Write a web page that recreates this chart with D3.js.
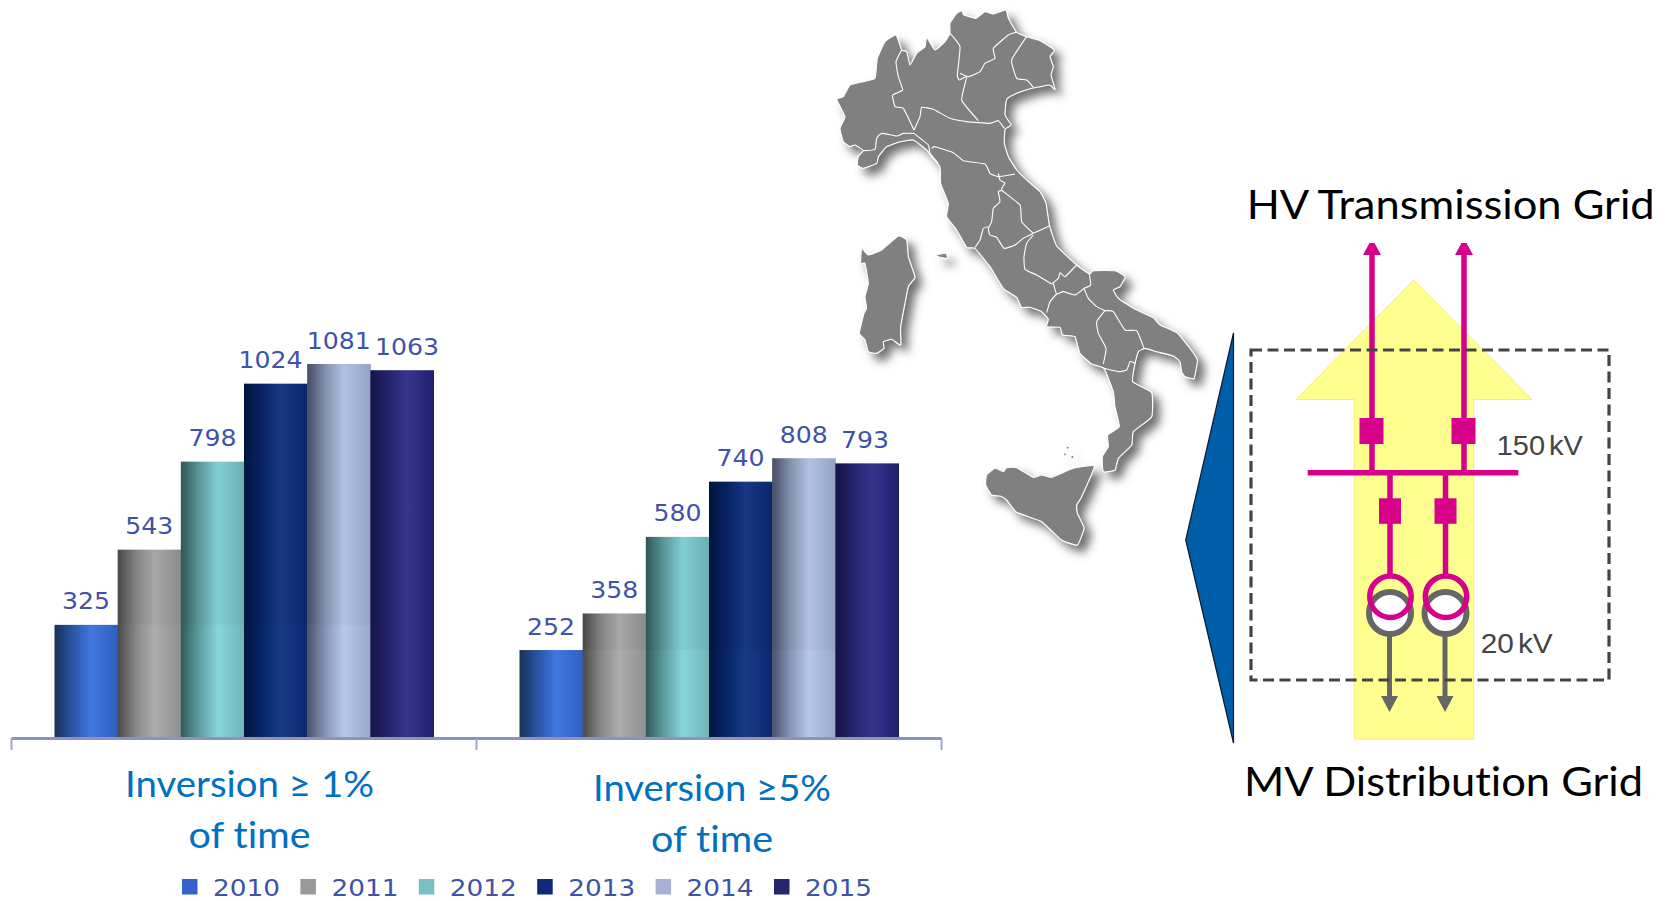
<!DOCTYPE html>
<html>
<head>
<meta charset="utf-8">
<script src="https://cdn.jsdelivr.net/npm/d3@7"></script>
<style>
  html, body { margin: 0; padding: 0; background: #fff; }
  svg { display: block; }
  text { font-variant-ligatures: none; }
</style>
</head>
<body>
<svg id="chart" width="1672" height="901"></svg>
<script>
// Occurrences of reverse power flow per year, for two time thresholds
const years = ["2010", "2011", "2012", "2013", "2014", "2015"];
const groups = ["Inversion ≥ 1%", "Inversion ≥5%"];
const inversion1 = [325, 543, 798, 1024, 1081, 1063];
const inversion5 = [252, 358, 580, 740, 808, 793];
const legendColors = ["#3264cc", "#999999", "#78c0c4", "#0c2a78", "#a6b2d4", "#26266f"];
const barStops = [
  ["#1a3055", "#2a56a8", "#4377e0", "#2f5fc0"],
  ["#4a4a4a", "#8a8a8a", "#adadad", "#8f8f8f"],
  ["#2f5a5c", "#5f9fa2", "#87d5dc", "#6fb5b8"],
  ["#021540", "#08266a", "#1a3a88", "#0a2870"],
  ["#4a5068", "#8a98b8", "#b8c8ea", "#98a8c8"],
  ["#141448", "#24246e", "#35358f", "#20206e"]
];

// Italy traced in map units; mapX and mapY place it on the page
const mainland = [[410,40],[425,32],[432,45],[468,55],[495,35],[520,42],[558,30],[565,55],[590,97],[620,110],[660,122],[703,150],[690,170],[700,200],[693,225],[705,268],[690,255],[660,260],[635,265],[590,280],[560,298],[555,345],[573,375],[555,388],[553,430],[565,470],[590,510],[625,545],[660,575],[678,610],[688,675],[710,738],[770,795],[808,822],[820,812],[885,812],[915,830],[900,860],[880,870],[895,895],[940,925],[1000,953],[1020,975],[1070,998],[1110,1045],[1132,1080],[1122,1135],[1095,1130],[1085,1115],[1080,1085],[1060,1068],[1010,1055],[975,1045],[955,1055],[945,1090],[938,1145],[995,1178],[995,1250],[940,1295],[935,1335],[895,1375],[885,1410],[850,1415],[847,1370],[865,1340],[863,1305],[898,1280],[885,1220],[880,1175],[852,1105],[815,1092],[780,1060],[765,1010],[728,1005],[720,982],[680,980],[685,958],[665,935],[630,922],[605,922],[590,892],[550,865],[510,800],[465,745],[440,742],[410,690],[380,650],[385,610],[362,550],[360,500],[335,470],[320,450],[280,420],[240,425],[200,440],[175,470],[170,490],[130,505],[112,495],[115,470],[130,452],[105,435],[90,440],[70,425],[60,385],[75,350],[50,298],[70,290],[90,255],[130,245],[165,235],[172,175],[195,125],[228,105],[245,150],[260,155],[270,195],[290,160],[315,140],[320,112],[345,150],[375,125],[390,100],[390,70]];
const sardinia = [[125,745],[145,765],[185,750],[235,708],[260,720],[265,770],[285,832],[265,860],[242,980],[242,1035],[215,1018],[190,1025],[192,1045],[170,1060],[145,1055],[135,1020],[118,1000],[132,940],[140,925],[135,890],[145,850],[135,790],[122,790]];
const sicily = [[500,1425],[525,1405],[550,1415],[560,1403],[590,1403],[640,1432],[665,1425],[695,1432],[760,1405],[823,1398],[785,1490],[770,1515],[772,1540],[792,1585],[772,1635],[725,1620],[665,1565],[590,1537],[560,1500],[540,1488],[515,1485],[497,1455]];
const elba = [[347,765],[378,760],[382,775],[360,772]];
const aeolian = [[743,1343],[735,1363],[757,1371]];
const regionBorders = [
  [[245,150],[228,185],[235,230],[248,270],[218,285],[225,320],[250,325],[282,390]],
  [[282,390],[300,350],[305,322],[340,328],[390,355],[440,365],[510,370],[535,362],[553,385]],
  [[390,100],[420,140],[412,225],[418,240],[440,230],[425,300],[475,362]],
  [[420,220],[445,230],[480,215],[495,190],[525,175],[520,145],[565,105],[590,97]],
  [[620,110],[575,180],[590,235],[620,240],[640,262]],
  [[282,400],[250,400],[230,408],[185,400],[170,415],[165,448],[130,452]],
  [[282,400],[325,435],[330,460],[355,490]],
  [[335,445],[345,440],[400,458],[430,482],[495,492],[510,520],[535,530],[585,522]],
  [[535,520],[540,540],[555,550],[545,570],[600,615],[605,665],[640,700]],
  [[545,572],[535,575],[540,605],[520,625],[515,665],[505,685],[510,705],[530,712],[552,745],[585,735],[610,715],[640,700]],
  [[505,680],[490,685],[480,720],[465,742]],
  [[640,700],[688,678]],
  [[640,705],[620,730],[612,770],[615,808],[650,825],[695,852]],
  [[770,795],[735,830],[720,818],[715,835],[695,852]],
  [[808,822],[812,855],[792,865]],
  [[700,850],[710,882],[730,875],[765,885],[792,865]],
  [[710,882],[690,905],[680,938]],
  [[792,865],[805,895],[830,920],[855,932]],
  [[855,932],[830,965],[835,1000],[858,1045],[850,1092]],
  [[855,932],[880,935],[915,990],[950,992],[972,1045]],
  [[852,1105],[895,1115],[920,1110],[930,1085],[945,1090]]
];

const svg = d3.select("#chart");
const defs = svg.append("defs");

barStops.forEach((stops, i) => {
  const g = defs.append("linearGradient").attr("id", "bar" + i);
  [0, 0.3, 0.58, 1].forEach((o, k) =>
    g.append("stop").attr("offset", o).attr("stop-color", stops[k]));
});
const shadow = defs.append("filter").attr("id", "mapShadow")
  .attr("x", "-10%").attr("y", "-10%").attr("width", "125%").attr("height", "125%");
shadow.append("feDropShadow").attr("dx", 7).attr("dy", 7)
  .attr("stdDeviation", 5).attr("flood-color", "#505050").attr("flood-opacity", 0.8);

/* ---------- grouped bars ---------- */
const x0 = d3.scaleBand().domain(groups).range([11, 941]);
const x1 = d3.scaleBand().domain(years).range([43.5, 422.5]);
const y = d3.scaleLinear().domain([0, 1081]).range([737, 364]);
const series = [inversion1, inversion5];
const labelShift = { 1063: 5, 1024: -5, 793: -2 };

groups.forEach((group, gi) => {
  const g = svg.append("g").attr("transform", `translate(${x0(group)},0)`);
  const values = series[gi];
  const rows = years.map((year, i) => ({ year, i, value: values[i] }));

  g.selectAll("rect.bar").data(rows).join("rect")
    .attr("class", "bar")
    .attr("x", d => x1(d.year))
    .attr("y", d => y(d.value))
    .attr("width", x1.bandwidth() + 0.5)
    .attr("height", d => y(0) - y(d.value))
    .attr("fill", d => `url(#bar${d.i})`);

  // Slightly darker band where a bar rises past the first year's height
  g.selectAll("rect.band").data(rows.slice(1, 5)).join("rect")
    .attr("class", "band")
    .attr("x", d => x1(d.year))
    .attr("y", d => y(d.value))
    .attr("width", x1.bandwidth())
    .attr("height", d => y(values[0]) - y(d.value))
    .attr("fill", "#000").attr("opacity", 0.03);

  g.selectAll("text.value").data(rows).join("text")
    .attr("class", "value")
    .attr("x", d => x1(d.year) + x1.bandwidth() / 2 + (labelShift[d.value] || 0))
    .attr("y", d => y(d.value) - 15.5)
    .attr("text-anchor", "middle")
    .attr("font-family", "DejaVu Sans")
    .attr("font-size", 23.5)
    .attr("fill", "#3f52aa")
    .attr("textLength", d => String(d.value).length * 16)
    .attr("lengthAdjust", "spacingAndGlyphs")
    .text(d => d.value);
});

// Baseline with ticks at the group boundaries
const boundary = d3.scaleLinear().domain([0, groups.length]).range(x0.range());
const axis = svg.append("g").attr("transform", "translate(0,738)")
  .call(d3.axisBottom(boundary).tickValues(d3.range(groups.length + 1)).tickFormat("").tickSize(12).tickSizeOuter(0));
axis.select(".domain").attr("stroke", "#8a92c0").attr("stroke-width", 3);
axis.selectAll(".tick line").attr("stroke", "#a0a6cc").attr("stroke-width", 2);

/* ---------- group captions ---------- */
const captions = [
  { lines: [groups[0], "of time"], cx: 249.5, y: 797, w: [249, 122] },
  { lines: [groups[1], "of time"], cx: 712, y: 801, w: [238, 122] }
];
captions.forEach(c => c.lines.forEach((line, i) => {
  svg.append("text")
    .attr("x", c.cx).attr("y", c.y + i * 50.5)
    .attr("text-anchor", "middle")
    .attr("font-family", "Lato").attr("font-size", 37)
    .attr("fill", "#0070c0")
    .attr("textLength", c.w[i]).attr("lengthAdjust", "spacingAndGlyphs")
    .text(line);
}));

/* ---------- legend ---------- */
const legendX = d3.scaleLinear().domain([0, years.length]).range([182, 182 + 118.4 * years.length]);
const legend = svg.append("g");
legend.selectAll("rect").data(years).join("rect")
  .attr("x", (d, i) => legendX(i)).attr("y", 879)
  .attr("width", 15.5).attr("height", 15.5)
  .attr("fill", (d, i) => legendColors[i]);
legend.selectAll("text").data(years).join("text")
  .attr("x", (d, i) => legendX(i) + 31).attr("y", 896)
  .attr("font-family", "DejaVu Sans").attr("font-size", 23)
  .attr("fill", "#3f52aa")
  .attr("textLength", 67).attr("lengthAdjust", "spacingAndGlyphs")
  .text(d => d);

/* ---------- map of Italy ---------- */
const mapX = d3.scaleLinear().domain([0, 3]).range([820, 821]);
const mapY = d3.scaleLinear().domain([0, 3]).range([0, 1]);
const mapLine = d3.line().x(d => mapX(d[0])).y(d => mapY(d[1])).curve(d3.curveCardinal.tension(0.6));
const mapClosed = d3.line().x(d => mapX(d[0])).y(d => mapY(d[1])).curve(d3.curveCardinalClosed.tension(0.6));

const map = svg.append("g").attr("filter", "url(#mapShadow)");
map.selectAll("path.land").data([mainland, sardinia, sicily, elba]).join("path")
  .attr("class", "land")
  .attr("d", mapClosed)
  .attr("fill", "#808080").attr("stroke", "#fff").attr("stroke-width", 1.1);
map.selectAll("circle").data(aeolian).join("circle")
  .attr("cx", d => mapX(d[0])).attr("cy", d => mapY(d[1])).attr("r", 0.9)
  .attr("fill", "#777");
svg.append("g").selectAll("path").data(regionBorders).join("path")
  .attr("d", mapLine)
  .attr("fill", "none").attr("stroke", "#fff").attr("stroke-width", 1.1);

/* ---------- substation schematic ---------- */
const schem = svg.append("g");
const poly = d3.line();

schem.append("path")
  .attr("d", poly([[1233.5, 333], [1185.7, 540], [1233.5, 743]]) + "Z")
  .attr("fill", "#005ea8").attr("stroke", "#0a1a2a").attr("stroke-width", 1.2);

// Power flow arrow
schem.append("path")
  .attr("d", poly([[1413.7, 280], [1532, 399.5], [1473.7, 399.5], [1473.7, 739], [1354.3, 739], [1354.3, 399.5], [1296, 399.5]]) + "Z")
  .attr("fill", "#ffff90").attr("stroke", "#ffe680").attr("stroke-width", 1);

const magenta = "#d6008a", grey = "#666666";

// HV feeders, breakers and busbar
[1372, 1464].forEach(x => {
  schem.append("line").attr("x1", x).attr("x2", x).attr("y1", 250).attr("y2", 473)
    .attr("stroke", magenta).attr("stroke-width", 5.5);
  schem.append("path")
    .attr("d", poly([[x - 2.5, 243], [x + 2.5, 243], [x + 9, 255], [x - 9, 255]]) + "Z")
    .attr("fill", magenta);
  schem.append("rect").attr("x", x - 12.5).attr("y", 418).attr("width", 24).attr("height", 26)
    .attr("fill", magenta);
});
schem.append("line").attr("x1", 1307.7).attr("x2", 1518.3).attr("y1", 472.7).attr("y2", 472.7)
  .attr("stroke", magenta).attr("stroke-width", 5.5);

// Transformer bays
[1390, 1445.5].forEach(x => {
  schem.append("line").attr("x1", x).attr("x2", x).attr("y1", 473).attr("y2", 576)
    .attr("stroke", magenta).attr("stroke-width", 5.5);
  schem.append("rect").attr("x", x - 11).attr("y", 498.3).attr("width", 22).attr("height", 25.5)
    .attr("fill", magenta);
  schem.append("line").attr("x1", x - 0.5).attr("x2", x - 0.5).attr("y1", 636).attr("y2", 698)
    .attr("stroke", grey).attr("stroke-width", 5);
  schem.append("path")
    .attr("d", poly([[x - 9, 696], [x + 8, 696], [x - 0.5, 712]]) + "Z")
    .attr("fill", grey);
  schem.append("circle").attr("cx", x).attr("cy", 613).attr("r", 21)
    .attr("fill", "#fff").attr("stroke", grey).attr("stroke-width", 6);
  schem.append("circle").attr("cx", x + 0.5).attr("cy", 596.7).attr("r", 20.7)
    .attr("fill", "none").attr("stroke", magenta).attr("stroke-width", 5.5);
});

// Substation boundary
schem.append("rect").attr("x", 1251).attr("y", 350).attr("width", 358).attr("height", 330)
  .attr("fill", "none").attr("stroke", "#444").attr("stroke-width", 3.2)
  .attr("stroke-dasharray", "11 5.5");

const diagramText = [
  { t: "HV Transmission Grid", x: 1246.7, y: 219, len: 408, font: "Lato", size: 41, fill: "#000", gap: 0 },
  { t: "MV Distribution Grid", x: 1244, y: 796, len: 399, font: "Lato", size: 41, fill: "#000", gap: 0 },
  { t: "150 kV", x: 1496.7, y: 455, len: 86, font: "Liberation Sans", size: 28, fill: "#444", gap: -4 },
  { t: "20 kV", x: 1480.7, y: 653, len: 72, font: "Liberation Sans", size: 28, fill: "#444", gap: -4 }
];
svg.append("g").selectAll("text").data(diagramText).join("text")
  .attr("x", d => d.x).attr("y", d => d.y)
  .attr("font-family", d => d.font).attr("font-size", d => d.size)
  .attr("fill", d => d.fill)
  .style("word-spacing", d => d.gap + "px")
  .attr("textLength", d => d.len).attr("lengthAdjust", "spacingAndGlyphs")
  .text(d => d.t);
</script>
</body>
</html>
